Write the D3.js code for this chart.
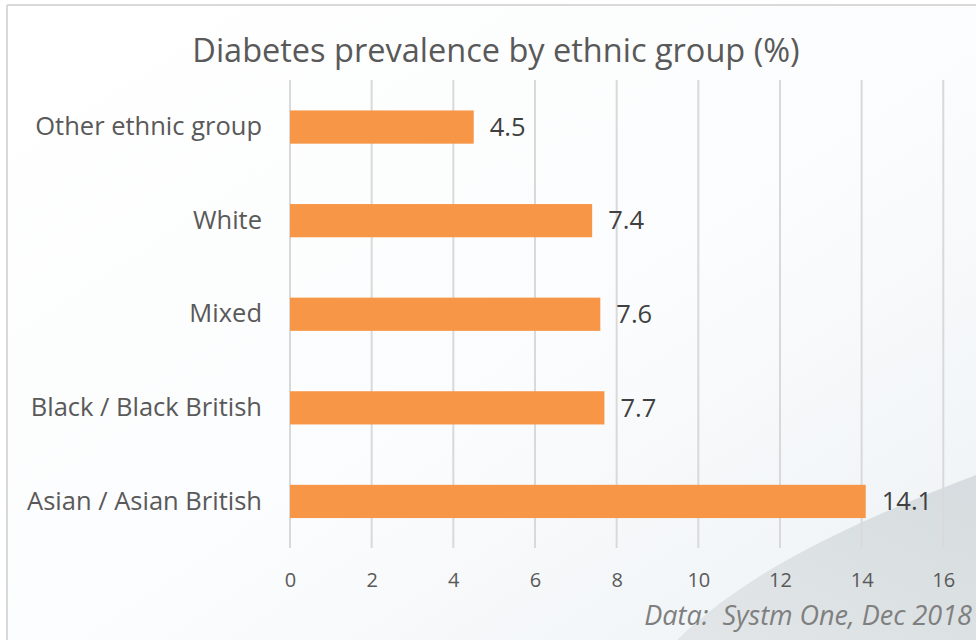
<!DOCTYPE html>
<html>
<head>
<meta charset="utf-8">
<script src="https://cdn.jsdelivr.net/npm/d3@7"></script>
<style>
  html, body { margin: 0; padding: 0; background: #ffffff; }
  svg { display: block; }
</style>
</head>
<body>
<svg id="chart" width="976" height="640"></svg>
<script>
// Diabetes prevalence by ethnic group (%)
const categories = ["Other ethnic group", "White", "Mixed", "Black / Black British", "Asian / Asian British"];
const values = [4.5, 7.4, 7.6, 7.7, 14.1];
const tickValues = [0, 2, 4, 6, 8, 10, 12, 14, 16];
const titleText = "Diabetes prevalence by ethnic group (%)";
const sourceText = "Data:\u00a0 Systm One, Dec 2018";

const W = 976, H = 640;
const svg = d3.select("#chart");
const FONT = "'Open Sans', sans-serif";

// Background panel with soft gradient and a curved sweep bottom-right
const defs = svg.append("defs");
const bg = defs.append("linearGradient").attr("id", "bgGrad")
  .attr("x1", "0").attr("y1", "0").attr("x2", "1").attr("y2", "1");
bg.append("stop").attr("offset", "0").attr("stop-color", "#ffffff");
bg.append("stop").attr("offset", "0.55").attr("stop-color", "#fbfcfd");
bg.append("stop").attr("offset", "1").attr("stop-color", "#edf2f4");

const sweep = defs.append("linearGradient").attr("id", "sweepGrad")
  .attr("x1", "0").attr("y1", "1").attr("x2", "1").attr("y2", "0");
sweep.append("stop").attr("offset", "0").attr("stop-color", "#e2e6e8");
sweep.append("stop").attr("offset", "1").attr("stop-color", "#d6dcdf");

svg.append("rect").attr("x", 0).attr("y", 0).attr("width", W).attr("height", H).attr("fill", "#ffffff");
svg.append("rect").attr("x", 7).attr("y", 5).attr("width", W - 7).attr("height", H - 5).attr("fill", "url(#bgGrad)");
svg.append("path")
  .attr("d", `M 677 ${H} C 740 580, 820 535, ${W} 475 L ${W} ${H} Z`)
  .attr("fill", "url(#sweepGrad)");

// Frame lines (top and left)
svg.append("line").attr("x1", 7).attr("x2", W).attr("y1", 5).attr("y2", 5)
  .attr("stroke", "#d9d9d9").attr("stroke-width", 2);
svg.append("line").attr("x1", 7).attr("x2", 7).attr("y1", 5).attr("y2", H)
  .attr("stroke", "#d9d9d9").attr("stroke-width", 2);

// Scales
const x = d3.scaleLinear().domain([0, 16]).range([290, 943.3]);
const y = d3.scaleBand().domain(categories).range([80.5, 548]).paddingInner(0.645).paddingOuter(0.32);

// Gridlines
svg.append("g").selectAll("line").data(tickValues).join("line")
  .attr("x1", d => x(d)).attr("x2", d => x(d))
  .attr("y1", 80).attr("y2", 548)
  .attr("stroke", "#d9d9d9").attr("stroke-width", 2);

// Bars
svg.append("g").selectAll("rect").data(values).join("rect")
  .attr("x", x(0))
  .attr("y", (d, i) => y(categories[i]))
  .attr("width", d => x(d) - x(0))
  .attr("height", y.bandwidth())
  .attr("fill", "#f79646");

// Value labels
svg.append("g").selectAll("text").data(values).join("text")
  .attr("x", d => x(d) + 16)
  .attr("y", (d, i) => y(categories[i]) + y.bandwidth() / 2)
  .attr("dy", "0.34em")
  .attr("font-family", FONT).attr("font-size", 25.5)
  .attr("fill", "#404040")
  .text(d => d.toFixed(1));

// Category labels
svg.append("g").selectAll("text").data(categories).join("text")
  .attr("x", 262)
  .attr("y", d => y(d) + y.bandwidth() / 2)
  .attr("dy", "0.32em")
  .attr("text-anchor", "end")
  .attr("font-family", FONT).attr("font-size", 25.5)
  .attr("fill", "#595959")
  .text(d => d);

// X axis tick labels
const axis = svg.append("g").attr("transform", "translate(0,548)")
  .call(d3.axisBottom(x).tickValues(tickValues).tickSize(0).tickPadding(25).tickFormat(d3.format("d")));
axis.select(".domain").remove();
axis.selectAll("text").attr("font-family", FONT).attr("font-size", 20).attr("fill", "#595959");

// Title
svg.append("text").attr("x", 496).attr("y", 62)
  .attr("text-anchor", "middle")
  .attr("font-family", FONT).attr("font-size", 32.5)
  .attr("fill", "#595959")
  .text(titleText);

// Source note
svg.append("text").attr("x", 972).attr("y", 625)
  .attr("text-anchor", "end")
  .attr("font-family", FONT).attr("font-style", "italic").attr("font-size", 27)
  .attr("fill", "#7f7f7f")
  .text(sourceText);
</script>
</body>
</html>
